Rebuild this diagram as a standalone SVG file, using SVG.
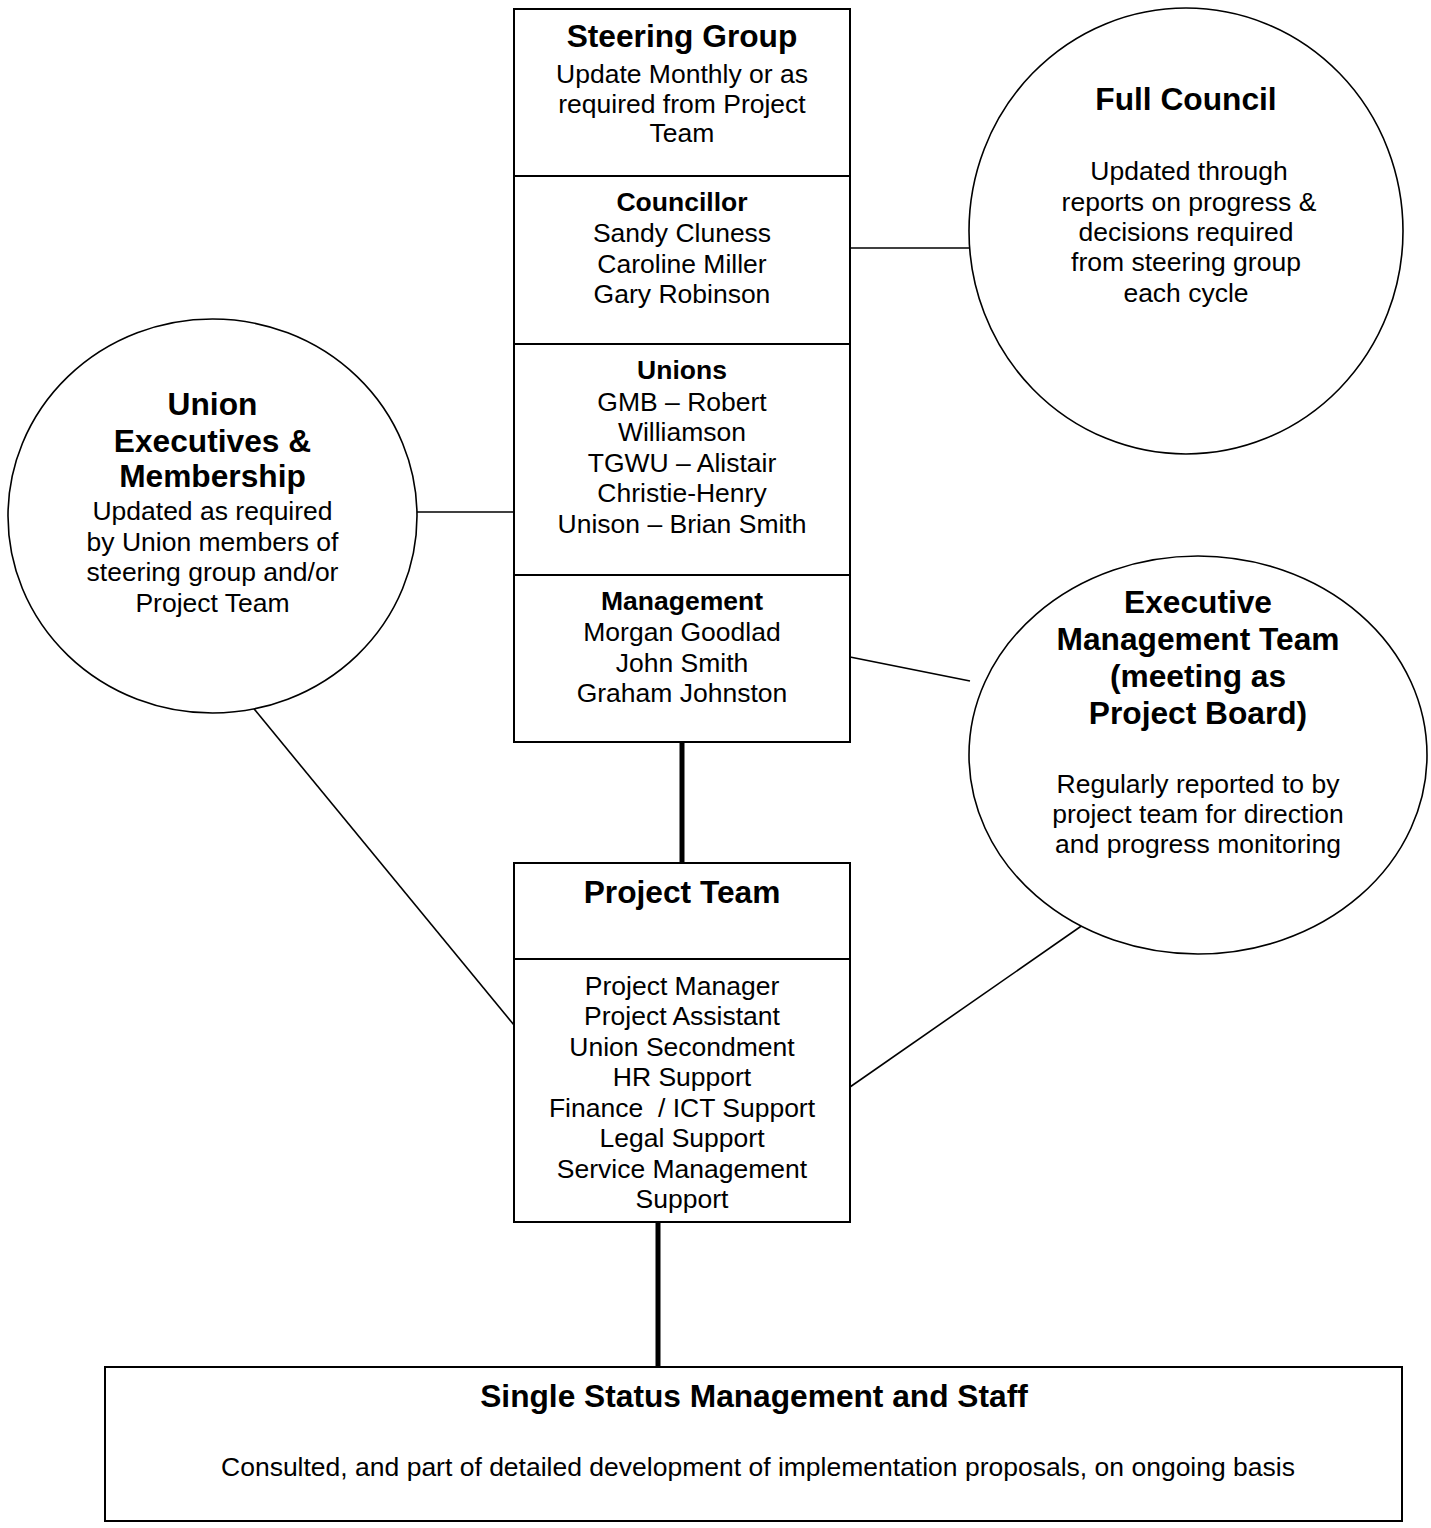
<svg xmlns="http://www.w3.org/2000/svg" width="1431" height="1528" viewBox="0 0 1431 1528">
<style>
text{font-family:"Liberation Sans",Arial,sans-serif;fill:#000;text-anchor:middle}
.t{font-size:31.7px;font-weight:bold}
.h{font-size:26.5px;font-weight:bold}
.r{font-size:26.5px}
.box{fill:#fff;stroke:#000;stroke-width:2}
.div{stroke:#000;stroke-width:2}
.circ{fill:#fff;stroke:#000;stroke-width:1.6}
.thin{stroke:#000;stroke-width:1.6;fill:none}
.thick{stroke:#000;stroke-width:5;fill:none}
</style>
<rect width="1431" height="1528" fill="#fff"/>
<g id="connectors">
<line class="thick" x1="682" y1="742" x2="682" y2="863"/>
<line class="thick" x1="658" y1="1222" x2="658" y2="1367"/>
<line class="thin" x1="850" y1="248" x2="969" y2="248"/>
<line class="thin" x1="417" y1="512" x2="514" y2="512"/>
<line class="thin" x1="850" y1="657" x2="970" y2="681"/>
<line class="thin" x1="250" y1="704" x2="514" y2="1025"/>
<line class="thin" x1="1090" y1="920" x2="850" y2="1087"/>
</g>
<g id="steering-group">
<rect class="box" x="514" y="9" width="336" height="733"/>
<line class="div" x1="514" y1="176" x2="850" y2="176"/>
<line class="div" x1="514" y1="344" x2="850" y2="344"/>
<line class="div" x1="514" y1="575" x2="850" y2="575"/>
<text class="t" x="682" y="47">Steering Group</text>
<text class="r" x="682" y="83">Update Monthly or as</text>
<text class="r" x="682" y="112.5">required from Project</text>
<text class="r" x="682" y="142">Team</text>
<text class="h" x="682" y="211">Councillor</text>
<text class="r" x="682" y="242">Sandy Cluness</text>
<text class="r" x="682" y="272.5">Caroline Miller</text>
<text class="r" x="682" y="303">Gary Robinson</text>
<text class="h" x="682" y="379">Unions</text>
<text class="r" x="682" y="410.5">GMB – Robert</text>
<text class="r" x="682" y="441">Williamson</text>
<text class="r" x="682" y="471.5">TGWU – Alistair</text>
<text class="r" x="682" y="502">Christie-Henry</text>
<text class="r" x="682" y="532.5">Unison – Brian Smith</text>
<text class="h" x="682" y="610">Management</text>
<text class="r" x="682" y="641">Morgan Goodlad</text>
<text class="r" x="682" y="671.5">John Smith</text>
<text class="r" x="682" y="702">Graham Johnston</text>
</g>
<g id="full-council">
<ellipse class="circ" cx="1186" cy="231" rx="217" ry="223"/>
<text class="t" x="1186" y="110">Full Council</text>
<text class="r" x="1189" y="180">Updated through</text>
<text class="r" x="1189" y="210.5">reports on progress &amp;</text>
<text class="r" x="1186" y="241">decisions required</text>
<text class="r" x="1186" y="271">from steering group</text>
<text class="r" x="1186" y="301.5">each cycle</text>
</g>
<g id="union-executives">
<ellipse class="circ" cx="212.5" cy="516" rx="204.5" ry="197"/>
<text class="t" x="212.5" y="415">Union</text>
<text class="t" x="212.5" y="452">Executives &amp;</text>
<text class="t" x="212.5" y="487">Membership</text>
<text class="r" x="212.5" y="520">Updated as required</text>
<text class="r" x="212.5" y="550.5">by Union members of</text>
<text class="r" x="212.5" y="581">steering group and/or</text>
<text class="r" x="212.5" y="612">Project Team</text>
</g>
<g id="executive-management-team">
<ellipse class="circ" cx="1198" cy="755" rx="229" ry="199"/>
<text class="t" x="1198" y="613">Executive</text>
<text class="t" x="1198" y="650">Management Team</text>
<text class="t" x="1198" y="686.5">(meeting as</text>
<text class="t" x="1198" y="723.5">Project Board)</text>
<text class="r" x="1198" y="792.5">Regularly reported to by</text>
<text class="r" x="1198" y="822.5">project team for direction</text>
<text class="r" x="1198" y="853">and progress monitoring</text>
</g>
<g id="project-team">
<rect class="box" x="514" y="863" width="336" height="359"/>
<line class="div" x1="514" y1="959" x2="850" y2="959"/>
<text class="t" x="682" y="903">Project Team</text>
<text class="r" x="682" y="995">Project Manager</text>
<text class="r" x="682" y="1025">Project Assistant</text>
<text class="r" x="682" y="1055.5">Union Secondment</text>
<text class="r" x="682" y="1086">HR Support</text>
<text class="r" x="682" y="1116.5" xml:space="preserve">Finance  / ICT Support</text>
<text class="r" x="682" y="1147">Legal Support</text>
<text class="r" x="682" y="1177.5">Service Management</text>
<text class="r" x="682" y="1208">Support</text>
</g>
<g id="single-status">
<rect class="box" x="105" y="1367" width="1297" height="154"/>
<text class="t" x="754" y="1407">Single Status Management and Staff</text>
<text class="r" x="758" y="1476">Consulted, and part of detailed development of implementation proposals, on ongoing basis</text>
</g>
</svg>
